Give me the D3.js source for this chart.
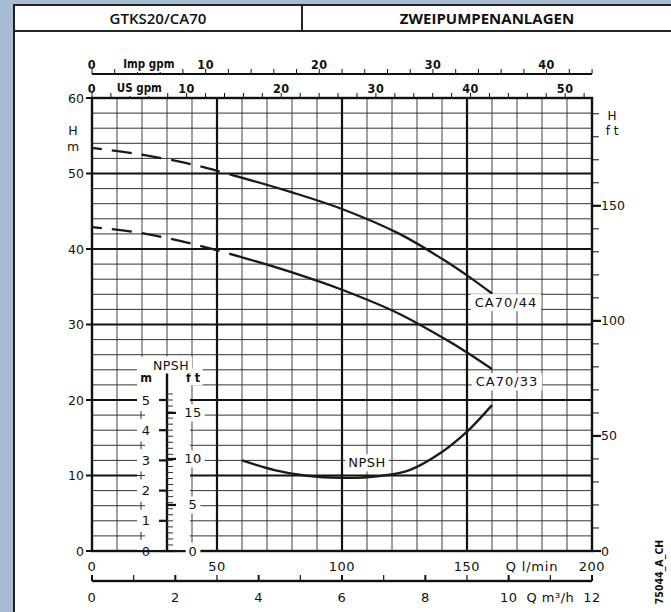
<!DOCTYPE html>
<html>
<head>
<meta charset="utf-8">
<script src="https://cdn.jsdelivr.net/npm/d3@7"></script>
<style>
    html, body { margin: 0; padding: 0; background: #a8bcd2; }
    svg { display: block; }
    text { font-family: "DejaVu Sans", sans-serif; fill: #111; }
</style>
</head>
<body>
<svg id="chart" width="671" height="612"></svg>
<script>
// pump curves (Q in l/min, H in m)
const flow44 = [0, 20, 40, 55, 80, 100, 123, 140, 150, 160]
const head44 = [53.4, 52.5, 51.2, 49.9, 47.5, 45.3, 42.0, 38.7, 36.5, 34.1]
const flow33 = [0, 20, 40, 60, 80, 100, 123, 140, 150, 160]
const head33 = [42.9, 42.1, 40.7, 38.9, 36.9, 34.6, 31.4, 28.3, 26.3, 24.1]
const flowNpsh = [60, 73, 85, 100, 115, 127, 140, 150, 160]
const npshM = [3.0, 2.68, 2.5, 2.42, 2.48, 2.68, 3.28, 3.95, 4.83]
const dashedUntil = 56 // below this flow the H curves are dashed

const headTicks = [0, 10, 20, 30, 40, 50, 60]
const headFtTicks = [0, 50, 100, 150]
const lminTicks = [0, 50, 100, 150, 200]
const m3hTicks = [0, 2, 4, 6, 8, 10, 12]
const impTicks = [0, 10, 20, 30, 40]
const usTicks = [0, 10, 20, 30, 40, 50]
const npshMTicks = [0, 1, 2, 3, 4, 5]
const npshFtTicks = [0, 5, 10, 15]

const title = 'GTKS20/CA70'
const subtitle = 'ZWEIPUMPENANLAGEN'
const drawingCode = '75044_A_CH'

const L_PER_IMP = 4.54609, L_PER_US = 3.78541, M_PER_FT = 0.3048

let svg = d3.select('#chart')

// white sheet + header
svg.append('rect').attr('x', 14).attr('y', 5).attr('width', 700).attr('height', 650)
    .attr('fill', '#fff').attr('stroke', '#222').attr('stroke-width', 2)
svg.append('line').attr('x1', 14).attr('x2', 671).attr('y1', 31).attr('y2', 31)
    .attr('stroke', '#222').attr('stroke-width', 2)
svg.append('line').attr('x1', 302).attr('x2', 302).attr('y1', 5).attr('y2', 31)
    .attr('stroke', '#222').attr('stroke-width', 2)
svg.append('text').attr('x', 158).attr('y', 24).attr('text-anchor', 'middle')
    .style('font-family', '"Open Sans", sans-serif').style('font-size', '15px').style('font-weight', 600)
    .text(title)
svg.append('text').attr('x', 487).attr('y', 24).attr('text-anchor', 'middle')
    .style('font-family', '"Open Sans", sans-serif').style('font-size', '15px').style('font-weight', 700)
    .text(subtitle)

// scales
let x = d3.scaleLinear().domain([0, 200]).range([92, 592])
let y = d3.scaleLinear().domain([0, 60]).range([551, 98])
let yFt = d3.scaleLinear().domain([0, 60 / M_PER_FT]).range([551, 98])
let xM3h = d3.scaleLinear().domain([0, 12]).range([92, 592])
let xImp = d3.scaleLinear().domain([0, 200 / L_PER_IMP]).range([92, 592])
let xUs = d3.scaleLinear().domain([0, 200 / L_PER_US]).range([92, 592])
let yNpsh = d3.scaleLinear().domain([0, 15]).range([551, 98])
let yNpshFt = d3.scaleLinear().domain([0, 15 / M_PER_FT]).range([551, 98])

let g = svg.append('g')

// grid
let vMinor = d3.range(10, 200, 10).filter(d => d % 50 !== 0)
let hMinor = d3.range(2, 60, 2).filter(d => d % 10 !== 0)
g.selectAll('.vmin').data(vMinor).enter().append('line')
    .attr('x1', d => x(d)).attr('x2', d => x(d)).attr('y1', y(60)).attr('y2', y(0))
    .attr('stroke', '#777').attr('stroke-width', 1.4)
g.selectAll('.hmin').data(hMinor).enter().append('line')
    .attr('x1', x(0)).attr('x2', x(200)).attr('y1', d => y(d)).attr('y2', d => y(d))
    .attr('stroke', '#333').attr('stroke-width', 1)
g.selectAll('.vmaj').data([50, 100, 150]).enter().append('line')
    .attr('x1', d => x(d)).attr('x2', d => x(d)).attr('y1', y(60)).attr('y2', y(0))
    .attr('stroke', '#111').attr('stroke-width', 2.2)
g.selectAll('.hmaj').data([10, 20, 30, 40, 50]).enter().append('line')
    .attr('x1', x(0)).attr('x2', x(200)).attr('y1', d => y(d)).attr('y2', d => y(d))
    .attr('stroke', '#111').attr('stroke-width', 2.2)
g.append('rect').attr('x', x(0)).attr('y', y(60)).attr('width', x(200) - x(0)).attr('height', y(0) - y(60))
    .attr('fill', 'none').attr('stroke', '#111').attr('stroke-width', 2.4)

function bgText(parent, tx, ty, str, opts) {
    opts = opts || {}
    let t = parent.append('text').attr('x', tx).attr('y', ty)
        .attr('text-anchor', opts.anchor || 'middle')
        .attr('dominant-baseline', 'central')
        .style('font-size', (opts.size || 13) + 'px')
        .style('letter-spacing', (opts.spacing || 0) + 'px')
        .text(str)
    if (opts.family) t.style('font-family', opts.family)
    if (opts.weight) t.style('font-weight', opts.weight)
    if (opts.bg) {
        let b = t.node().getBBox()
        let pad = opts.pad || 2
        parent.insert('rect', () => t.node())
            .attr('x', b.x - pad).attr('y', b.y - 1).attr('width', b.width + pad * 2).attr('height', b.height + 2)
            .attr('fill', '#fff')
    }
    return t
}
const COND = '"DejaVu Sans Condensed", "DejaVu Sans", sans-serif'

// left axis H m
let ax = svg.append('g')
ax.selectAll('.lt').data(headTicks).enter().append('line')
    .attr('x1', 86).attr('x2', x(0)).attr('y1', d => y(d)).attr('y2', d => y(d))
    .attr('stroke', '#111').attr('stroke-width', 2)
headTicks.forEach(d => bgText(ax, 84, y(d), d, { anchor: 'end', size: 12.5 }))
bgText(ax, 73, 130, 'H', { size: 12.5 })
bgText(ax, 73, 146, 'm', { size: 12.5 })

// right axis H ft
let ftMinor = d3.range(0, 200, 10)
ax.selectAll('.rt').data(ftMinor).enter().append('line')
    .attr('x1', x(200)).attr('x2', d => x(200) + (d % 50 === 0 ? 9 : 7))
    .attr('y1', d => yFt(d)).attr('y2', d => yFt(d))
    .attr('stroke', '#111').attr('stroke-width', d => d % 50 === 0 ? 2.2 : 1)
headFtTicks.forEach(d => bgText(ax, 601, yFt(d), d, { anchor: 'start', size: 12.5 }))
bgText(ax, 612, 116, 'H', { size: 12 })
bgText(ax, 612, 131, 'f t', { size: 12 })

// top axes Imp gpm and US gpm
let topImpY = 74, topUsY = y(60)
ax.append('line').attr('x1', xImp(0)).attr('x2', x(200)).attr('y1', topImpY).attr('y2', topImpY)
    .attr('stroke', '#111').attr('stroke-width', 2)
ax.selectAll('.it').data(d3.range(0, 45, 2)).enter().append('line')
    .attr('x1', d => xImp(d)).attr('x2', d => xImp(d)).attr('y1', topImpY).attr('y2', topImpY - 5)
    .attr('stroke', '#111').attr('stroke-width', 1)
ax.selectAll('.ut').data(d3.range(0, 53, 2)).enter().append('line')
    .attr('x1', d => xUs(d)).attr('x2', d => xUs(d)).attr('y1', topUsY).attr('y2', topUsY - 5)
    .attr('stroke', '#111').attr('stroke-width', 1)
impTicks.forEach(d => bgText(ax, xImp(d), topImpY - 10, d, { size: 12.5, weight: 700, spacing: 0.5, family: COND }))
usTicks.forEach(d => bgText(ax, xUs(d), topUsY - 10, d, { size: 12.5, weight: 700, spacing: 0.5, family: COND }))
bgText(ax, xImp(5), topImpY - 10, 'Imp gpm', { size: 11.5, weight: 700, bg: true, pad: 1, family: COND })
bgText(ax, xUs(5), topUsY - 10, 'US gpm', { size: 11.5, weight: 700, bg: true, pad: 1, family: COND })

// bottom axes l/min and m3/h
lminTicks.forEach(d => bgText(ax, x(d), 566, d, { size: 13, spacing: 0.5 }))
bgText(ax, x(176), 566, 'Q  l/min', { size: 13, spacing: 0.8 })

let m3hY = 581
let bl = svg.append('g')
m3hTicks.forEach(d => bgText(bl, xM3h(d), 597, d, { size: 13, spacing: 0.5 }))
bgText(bl, xM3h(11), 597, 'Q  m³/h', { size: 13, spacing: 0.5, bg: true, pad: 2 })

// drawing code, rotated
svg.append('text').attr('transform', 'translate(659,572)rotate(-90)')
    .attr('text-anchor', 'middle').attr('dominant-baseline', 'central')
    .style('font-size', '10.5px').style('font-weight', 700).style('font-family', COND)
    .text(drawingCode)

// NPSH inset scale
let ins = svg.append('g')
ins.append('rect').attr('x', 137).attr('y', 357).attr('width', 53).attr('height', y(0) - 358)
    .attr('fill', '#fff')
let axisX = x(30)
ins.append('line').attr('x1', axisX).attr('x2', axisX).attr('y1', 371).attr('y2', y(0))
    .attr('stroke', '#111').attr('stroke-width', 2.4)
ins.selectAll('.nm').data(npshMTicks).enter().append('line')
    .attr('x1', axisX - 8).attr('x2', axisX).attr('y1', d => yNpsh(d)).attr('y2', d => yNpsh(d))
    .attr('stroke', '#111').attr('stroke-width', 2.2)
ins.selectAll('.nh').data(d3.range(0.5, 5, 1)).enter().append('path')
    .attr('d', d => 'M137,' + yNpsh(d) + 'h8M141,' + (yNpsh(d) - 4) + 'v8')
    .attr('stroke', '#333').attr('stroke-width', 1)
ins.selectAll('.nr').data(d3.range(0, 5.3, 0.2)).enter().append('line')
    .attr('x1', axisX).attr('x2', axisX + 6).attr('y1', d => yNpsh(d)).attr('y2', d => yNpsh(d))
    .attr('stroke', '#333').attr('stroke-width', 1)
ins.selectAll('.nf').data(npshFtTicks).enter().append('line')
    .attr('x1', axisX).attr('x2', axisX + 9).attr('y1', d => yNpshFt(d)).attr('y2', d => yNpshFt(d))
    .attr('stroke', '#111').attr('stroke-width', 2.2)
npshMTicks.forEach(d => bgText(ins, 146, yNpsh(d), d, { size: 13 }))
npshFtTicks.forEach(d => bgText(ins, 193, yNpshFt(d), d, { size: 13, spacing: 0.5, bg: true, pad: 3 }))
bgText(ins, 146, 377, 'm', { size: 12.5, weight: 700, family: COND })
bgText(ins, 193, 377, 'f t', { size: 12.5, weight: 700, bg: true, pad: 2, family: COND })
bgText(ins, 171, 365, 'NPSH', { size: 12.5, spacing: 0.5, bg: true, pad: 3 })

// curves
let defs = svg.append('defs')
defs.append('clipPath').attr('id', 'clip-dash').append('rect')
    .attr('x', x(0) - 2).attr('y', 0).attr('width', x(dashedUntil) - x(0) + 2).attr('height', 612)
defs.append('clipPath').attr('id', 'clip-solid').append('rect')
    .attr('x', x(dashedUntil)).attr('y', 0).attr('width', 612 - x(dashedUntil)).attr('height', 612)

let line = d3.line().x(d => x(d[0])).y(d => y(d[1])).curve(d3.curveCatmullRom.alpha(0.5))
let lineNpsh = d3.line().x(d => x(d[0])).y(d => yNpsh(d[1])).curve(d3.curveCatmullRom.alpha(0.5))

let cg = svg.append('g').attr('fill', 'none').attr('stroke', '#1a1a1a').attr('stroke-width', 2.3)
;[[flow44, head44], [flow33, head33]].forEach(function (c) {
    let pts = d3.zip(c[0], c[1])
    cg.append('path').attr('d', line(pts)).attr('clip-path', 'url(#clip-dash)')
        .attr('stroke-dasharray', '20,10').attr('stroke-dashoffset', 10)
    cg.append('path').attr('d', line(pts)).attr('clip-path', 'url(#clip-solid)')
})
cg.append('path').attr('d', lineNpsh(d3.zip(flowNpsh, npshM)))

// curve labels
let lg = svg.append('g')
bgText(lg, 506, y(32.9), 'CA70/44', { size: 13, spacing: 1, bg: true, pad: 4 })
bgText(lg, 507, y(22.4), 'CA70/33', { size: 13, spacing: 1, bg: true, pad: 4 })
bgText(lg, 367, yNpsh(2.92), 'NPSH', { size: 13, spacing: 0.5, bg: true, pad: 3 })

// m3/h scale line (drawn last so nothing paints over it)
let m3 = svg.append('g')
m3.append('rect').attr('x', xM3h(0)).attr('y', m3hY - 1.2).attr('width', xM3h(12) - xM3h(0)).attr('height', 2.4)
    .attr('fill', '#111')
m3.selectAll('rect.m3t').data(d3.range(0, 13, 1)).enter().append('rect').attr('class', 'm3t')
    .attr('x', d => xM3h(d) - (d % 2 === 0 ? 1 : 0.6)).attr('y', m3hY - 6)
    .attr('width', d => d % 2 === 0 ? 2 : 1.2).attr('height', 6)
    .attr('fill', '#111')
</script>
</body>
</html>
